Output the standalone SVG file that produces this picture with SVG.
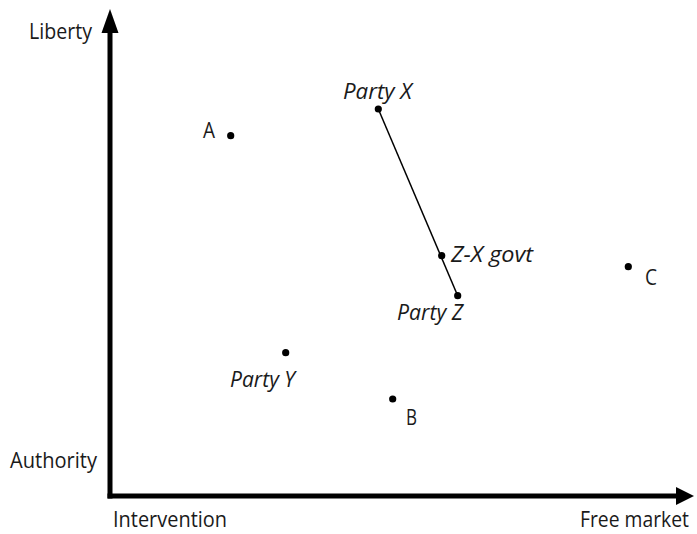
<svg xmlns="http://www.w3.org/2000/svg" width="697" height="534" viewBox="0 0 697 534">
<style>
text{font-family:"Open Sans","Liberation Sans",sans-serif;font-size:21px;fill:#1a1a1a}
.it{font-style:italic}
.dot{fill:#000}
.axis{stroke:#000;stroke-width:5;fill:none}
</style>
<rect width="697" height="534" fill="#fff"/>
<g id="axes">
<line class="axis" x1="110" y1="498.5" x2="110" y2="30"/>
<polygon points="110,9 118.5,33 101.5,33" fill="#000"/>
<line class="axis" x1="107.5" y1="496" x2="680" y2="496"/>
<polygon points="694,496 676,505 676,487" fill="#000"/>
<text x="29" y="39" textLength="63" lengthAdjust="spacingAndGlyphs">Liberty</text>
<text x="10" y="468" textLength="87" lengthAdjust="spacingAndGlyphs">Authority</text>
<text x="113" y="527" textLength="114" lengthAdjust="spacingAndGlyphs">Intervention</text>
<text x="580" y="527" textLength="109" lengthAdjust="spacingAndGlyphs">Free market</text>
</g>
<g id="connectors">
<line x1="378.3" y1="109" x2="457.7" y2="295.7" stroke="#000" stroke-width="1.5"/>
</g>
<g id="partyX"><circle class="dot" cx="378.3" cy="109" r="3.6"/><text class="it" x="343" y="99" textLength="69" lengthAdjust="spacingAndGlyphs">Party X</text></g>
<g id="zxgovt"><circle class="dot" cx="441.7" cy="255.7" r="3.6"/><text class="it" x="451" y="262" textLength="82" lengthAdjust="spacingAndGlyphs">Z-X govt</text></g>
<g id="partyZ"><circle class="dot" cx="457.7" cy="295.7" r="3.6"/><text class="it" x="397" y="320" textLength="66" lengthAdjust="spacingAndGlyphs">Party Z</text></g>
<g id="partyY"><circle class="dot" cx="285.7" cy="352.7" r="3.6"/><text class="it" x="230" y="387" textLength="65" lengthAdjust="spacingAndGlyphs">Party Y</text></g>
<g id="A"><circle class="dot" cx="230.7" cy="135.7" r="3.6"/><text x="203" y="138" textLength="12" lengthAdjust="spacingAndGlyphs">A</text></g>
<g id="B"><circle class="dot" cx="392.7" cy="399" r="3.6"/><text x="406" y="425" textLength="11" lengthAdjust="spacingAndGlyphs">B</text></g>
<g id="C"><circle class="dot" cx="628.3" cy="266.7" r="3.6"/><text x="645" y="285" textLength="12" lengthAdjust="spacingAndGlyphs">C</text></g>
</svg>
